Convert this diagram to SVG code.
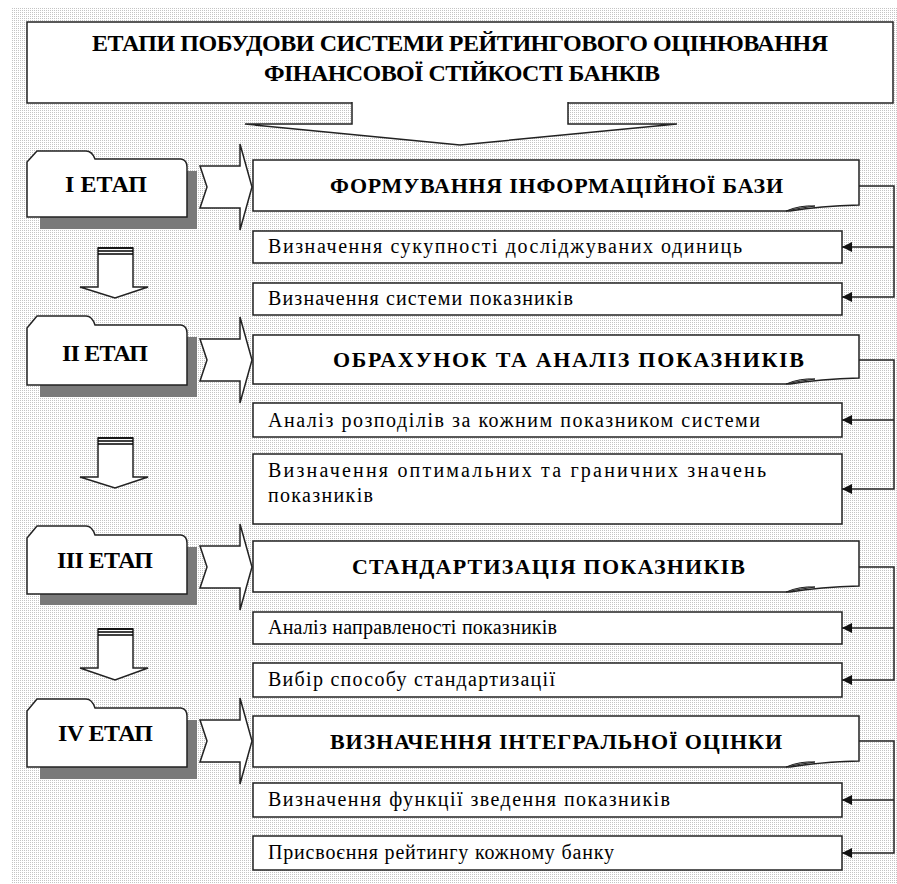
<svg xmlns="http://www.w3.org/2000/svg" width="897" height="884" viewBox="0 0 897 884" font-family="'Liberation Serif', 'DejaVu Serif', serif">
<defs>
<pattern id="dots" width="2" height="2" patternUnits="userSpaceOnUse"><rect width="2" height="2" fill="#ffffff"/><rect width="1" height="1" fill="#c4c4c4"/></pattern>
<marker id="ah" viewBox="0 0 10 10" refX="10" refY="5" markerWidth="10" markerHeight="10" markerUnits="userSpaceOnUse" orient="auto"><path d="M0,0 L10,5 L0,10 Z" fill="#111"/></marker>
<style>
.box{fill:#fff;stroke:#222;stroke-width:1.5}
.shadow{fill:#7a7a7a}
.ln{fill:none;stroke:#222;stroke-width:1.5}
.curl{fill:#aaa;stroke:#222;stroke-width:1}
.t{font-family:'Liberation Serif', 'DejaVu Serif', serif;fill:#000}
.title{font-size:24px;font-weight:bold}
.stage{font-size:24px;font-weight:bold}
.head{font-size:22px;font-weight:bold}
.sub{font-size:20px}
.stripe{stroke:#000;stroke-width:1.6}
</style>
</defs>
<rect x="12" y="7" width="885" height="877" fill="url(#dots)"/>

<g id="title">
<rect class="box" x="27" y="22" width="866" height="81"/>
<path d="M352,102 V124 H245 L460,145 L677,124 H568 V102" fill="#fff" stroke="#222" stroke-width="1.5"/>
<text class="t title" x="92" y="51" textLength="736">ЕТАПИ ПОБУДОВИ СИСТЕМИ РЕЙТИНГОВОГО ОЦІНЮВАННЯ</text>
<text class="t title" x="264" y="81" textLength="396">ФІНАНСОВОЇ СТІЙКОСТІ БАНКІВ</text>
</g>

<g id="stage1">
<rect class="shadow" x="40" y="171" width="157" height="58"/>
<path class="box" d="M27,217 V162 L37,151 H86 Q92,151 95,159 H181 Q187,160 187,167 V217 Z"/>
<text class="t stage" x="65" y="192" textLength="82">І ЕТАП</text>
</g>
<g id="stage2">
<rect class="shadow" x="40" y="337" width="157" height="60"/>
<path class="box" d="M27,385 V328 L37,316 H86 Q92,316 95,325 H181 Q187,326 187,333 V385 Z"/>
<text class="t stage" x="62" y="361" textLength="86">ІІ ЕТАП</text>
</g>
<g id="stage3">
<rect class="shadow" x="40" y="547" width="157" height="58"/>
<path class="box" d="M27,594 V538 L37,526 H86 Q92,526 95,535 H181 Q187,536 187,543 V594 Z"/>
<text class="t stage" x="57" y="568" textLength="96">ІІІ ЕТАП</text>
</g>
<g id="stage4">
<rect class="shadow" x="40" y="720" width="157" height="59"/>
<path class="box" d="M27,767 V711 L37,699 H86 Q92,699 95,708 H181 Q187,709 187,716 V767 Z"/>
<text class="t stage" x="58" y="741" textLength="95">IV ЕТАП</text>
</g>

<g id="down-arrows">
<path class="box" d="M98,248 V287 L80,287 L115,298 L148,287 L133,287 V248 Z"/>
<line class="stripe" x1="98" y1="248" x2="133" y2="248"/><line class="stripe" x1="98" y1="251" x2="133" y2="251"/><line class="stripe" x1="98" y1="254" x2="133" y2="254"/>
<path class="box" d="M98,438 V477 L80,477 L115,488 L148,477 L133,477 V438 Z"/>
<line class="stripe" x1="98" y1="438" x2="133" y2="438"/><line class="stripe" x1="98" y1="441" x2="133" y2="441"/><line class="stripe" x1="98" y1="444" x2="133" y2="444"/>
<path class="box" d="M98,629 V668 L80,668 L115,680 L148,668 L133,668 V629 Z"/>
<line class="stripe" x1="98" y1="629" x2="133" y2="629"/><line class="stripe" x1="98" y1="632" x2="133" y2="632"/><line class="stripe" x1="98" y1="635" x2="133" y2="635"/>
</g>

<g id="right-arrows">
<path class="box" d="M200,166 H240 V144 L252,187 L240,230 V208 H200 L207,187 Z"/>
<path class="box" d="M200,339 H240 V317 L252,360 L240,403 V381 H200 L207,360 Z"/>
<path class="box" d="M200,546 H240 V524 L252,567 L240,610 V588 H200 L207,567 Z"/>
<path class="box" d="M200,720 H240 V698 L252,741 L240,784 V762 H200 L207,741 Z"/>
</g>

<g id="head1">
<path class="box" d="M253,160 H859 V205 Q820,206 790,211 H253 Z"/>
<path class="curl" d="M786,211 Q800,205 815,206 Q800,208 786,211 Z"/>
<text class="t head" x="330" y="193" textLength="453">ФОРМУВАННЯ ІНФОРМАЦІЙНОЇ БАЗИ</text>
</g>
<g id="sub1a"><rect class="box" x="253" y="231" width="589" height="32"/><text class="t sub" x="268" y="253" textLength="474">Визначення сукупності досліджуваних одиниць</text></g>
<g id="sub1b"><rect class="box" x="253" y="283" width="589" height="32"/><text class="t sub" x="268" y="305" textLength="305">Визначення системи показників</text></g>

<g id="head2">
<path class="box" d="M253,335 H859 V378 Q820,379 790,384 H253 Z"/>
<path class="curl" d="M786,384 Q800,378 815,379 Q800,381 786,384 Z"/>
<text class="t head" x="333" y="367" textLength="471">ОБРАХУНОК ТА АНАЛІЗ ПОКАЗНИКІВ</text>
</g>
<g id="sub2a"><rect class="box" x="253" y="403" width="589" height="34"/><text class="t sub" x="268" y="427" textLength="492">Аналіз розподілів за кожним показником системи</text></g>
<g id="sub2b"><rect class="box" x="253" y="454" width="589" height="70"/><text class="t sub" x="268" y="477" textLength="498">Визначення оптимальних та граничних значень</text><text class="t sub" x="268" y="502" textLength="105">показників</text></g>

<g id="head3">
<path class="box" d="M253,541 H859 V586 Q820,587 790,592 H253 Z"/>
<path class="curl" d="M786,592 Q800,586 815,587 Q800,589 786,592 Z"/>
<text class="t head" x="352" y="574" textLength="393">СТАНДАРТИЗАЦІЯ ПОКАЗНИКІВ</text>
</g>
<g id="sub3a"><rect class="box" x="253" y="612" width="589" height="32"/><text class="t sub" x="268" y="634" textLength="289">Аналіз направленості показників</text></g>
<g id="sub3b"><rect class="box" x="253" y="663" width="589" height="34"/><text class="t sub" x="268" y="686" textLength="287">Вибір способу стандартизації</text></g>

<g id="head4">
<path class="box" d="M253,716 H859 V761 Q820,762 790,767 H253 Z"/>
<path class="curl" d="M786,767 Q800,761 815,762 Q800,764 786,767 Z"/>
<text class="t head" x="330" y="749" textLength="452">ВИЗНАЧЕННЯ ІНТЕГРАЛЬНОЇ ОЦІНКИ</text>
</g>
<g id="sub4a"><rect class="box" x="253" y="783" width="589" height="34"/><text class="t sub" x="268" y="806" textLength="402">Визначення функції зведення показників</text></g>
<g id="sub4b"><rect class="box" x="253" y="836" width="589" height="34"/><text class="t sub" x="268" y="859" textLength="346">Присвоєння рейтингу кожному банку</text></g>

<g id="connectors">
<path class="ln" d="M859,186 H894 V297 H842" marker-end="url(#ah)"/>
<path class="ln" d="M894,247 H842" marker-end="url(#ah)"/>
<path class="ln" d="M859,360 H894 V489 H842" marker-end="url(#ah)"/>
<path class="ln" d="M894,420 H842" marker-end="url(#ah)"/>
<path class="ln" d="M859,567 H894 V680 H842" marker-end="url(#ah)"/>
<path class="ln" d="M894,628 H842" marker-end="url(#ah)"/>
<path class="ln" d="M859,741 H894 V853 H842" marker-end="url(#ah)"/>
<path class="ln" d="M894,800 H842" marker-end="url(#ah)"/>
</g>
</svg>
